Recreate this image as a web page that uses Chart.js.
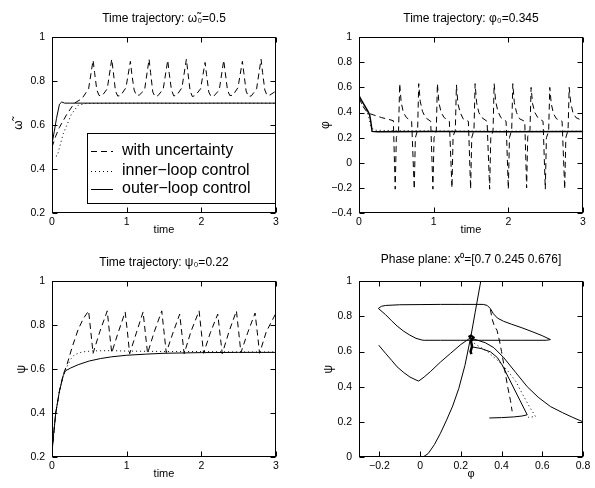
<!DOCTYPE html>
<html>
<head>
<meta charset="utf-8">
<script src="https://cdn.jsdelivr.net/npm/chart.js@4/dist/chart.umd.min.js"></script>
<style>
  body { margin: 0; background: #fff; width: 595px; height: 488px; position: relative; overflow: hidden; }
  .panel { position: absolute; }
</style>
</head>
<body>
<div class="panel" style="left:0;top:0"><canvas id="c1" width="297" height="244"></canvas></div>
<div class="panel" style="left:297px;top:0"><canvas id="c2" width="298" height="244"></canvas></div>
<div class="panel" style="left:0;top:244px"><canvas id="c3" width="297" height="244"></canvas></div>
<div class="panel" style="left:297px;top:244px"><canvas id="c4" width="298" height="244"></canvas></div>
<script>
// tick labels
const timeTicks = [0, 1, 2, 3];
const omegaTicks = [0.2, 0.4, 0.6, 0.8, 1];
const phiTicks = [-0.4, -0.2, 0, 0.2, 0.4, 0.6, 0.8, 1];
const psiTicks = [0.2, 0.4, 0.6, 0.8, 1];
const phasePhiTicks = [-0.2, 0, 0.2, 0.4, 0.6, 0.8];
const phasePsiTicks = [0, 0.2, 0.4, 0.6, 0.8, 1];
const seriesNames = ['with uncertainty', 'inner\u2212loop control', 'outer\u2212loop control'];

// omega~ time trajectory
const omegaUncT = [0,0.05,0.1,0.15,0.2,0.3,0.4,0.49,
  0.55,0.57,0.6,0.63,0.67,0.74,
  0.8,0.82,0.85,0.88,0.92,0.99,
  1.05,1.07,1.1,1.13,1.17,1.24,
  1.3,1.32,1.35,1.38,1.42,1.49,
  1.55,1.57,1.6,1.63,1.67,1.74,
  1.8,1.82,1.85,1.88,1.92,1.99,
  2.05,2.07,2.1,2.13,2.17,2.24,
  2.3,2.32,2.35,2.38,2.42,2.49,
  2.55,2.57,2.6,2.63,2.67,2.74,
  2.8,2.82,2.85,2.88,2.92,3.0];
const omegaUncV = [0.5,0.55,0.59,0.62,0.65,0.7,0.72,0.765,
  0.895,0.84,0.76,0.735,0.733,0.765,
  0.9,0.845,0.755,0.732,0.735,0.77,
  0.89,0.83,0.76,0.735,0.737,0.76,
  0.9,0.84,0.75,0.73,0.734,0.765,
  0.895,0.835,0.76,0.733,0.735,0.77,
  0.9,0.84,0.755,0.73,0.735,0.765,
  0.885,0.83,0.75,0.73,0.733,0.76,
  0.895,0.84,0.76,0.735,0.735,0.77,
  0.89,0.835,0.755,0.73,0.733,0.765,
  0.9,0.84,0.76,0.735,0.737,0.755];
const omegaInnerT = [0,0.07,0.15,0.26,0.35,0.45,0.8,1.3,1.8,2.3,3];
const omegaInnerV = [0.455,0.46,0.56,0.65,0.69,0.698,0.699,0.7,0.698,0.7,0.699];
const omegaOuterT = [0,0.03,0.06,0.1,0.13,0.17,0.25,3];
const omegaOuterV = [0.515,0.57,0.63,0.695,0.705,0.7,0.7,0.7];

// phi time trajectory
const phiUncT = [0,0.05,0.1,0.15,0.2,0.3,0.4,0.46,
  0.485,0.5,0.53,0.545,0.565,0.595,0.635,0.705,
  0.74,0.755,0.785,0.8,0.82,0.85,0.89,0.96,
  0.99,1.005,1.035,1.05,1.07,1.1,1.14,1.21,
  1.245,1.26,1.29,1.305,1.325,1.355,1.395,1.465,
  1.495,1.51,1.54,1.555,1.575,1.605,1.645,1.715,
  1.75,1.765,1.795,1.81,1.83,1.86,1.9,1.97,
  2.0,2.015,2.045,2.06,2.08,2.11,2.15,2.22,
  2.245,2.26,2.29,2.305,2.325,2.355,2.395,2.465,
  2.495,2.51,2.54,2.555,2.575,2.605,2.645,2.72,
  2.755,2.77,2.8,2.815,2.835,2.865,2.905,2.975,3.0];
const phiUncV = [0.52,0.45,0.41,0.39,0.38,0.36,0.345,0.335,
  -0.21,0.2,0.26,0.63,0.48,0.4,0.36,0.33,
  -0.21,0.2,0.26,0.63,0.49,0.41,0.36,0.33,
  -0.21,0.2,0.25,0.63,0.48,0.4,0.36,0.33,
  -0.2,0.21,0.26,0.62,0.47,0.4,0.35,0.33,
  -0.21,0.2,0.26,0.63,0.48,0.4,0.36,0.33,
  -0.21,0.2,0.25,0.63,0.49,0.41,0.36,0.33,
  -0.21,0.2,0.26,0.63,0.48,0.4,0.35,0.33,
  -0.2,0.21,0.26,0.6,0.47,0.4,0.36,0.33,
  -0.21,0.2,0.25,0.6,0.47,0.39,0.35,0.33,
  -0.21,0.2,0.26,0.6,0.48,0.4,0.36,0.34,0.335];
const phiInnerT = [0,0.05,0.1,0.13,0.16,0.2,0.3,0.5,1,1.5,2,2.5,3];
const phiInnerV = [0.5,0.46,0.42,0.36,0.29,0.26,0.258,0.256,0.254,0.252,0.252,0.251,0.251];
const phiOuterT = [0,0.04,0.085,0.115,0.143,0.16,0.175,0.25,1,2,3];
const phiOuterV = [0.535,0.49,0.445,0.415,0.38,0.32,0.25,0.248,0.25,0.248,0.25];

// psi time trajectory
const psiUncT = [0,0.05,0.1,0.15,0.2,0.27,0.35,0.42,
  0.49,0.52,0.55,0.64,
  0.74,0.77,0.8,0.89,
  0.98,1.01,1.04,1.13,
  1.22,1.25,1.28,1.37,
  1.47,1.5,1.53,1.62,
  1.71,1.74,1.77,1.86,
  1.97,2.0,2.03,2.12,
  2.22,2.25,2.28,2.37,
  2.47,2.5,2.53,2.62,
  2.72,2.75,2.78,2.87,3.0];
const psiUncV = [0.22,0.4,0.5,0.575,0.62,0.7,0.78,0.83,
  0.865,0.77,0.672,0.77,
  0.865,0.765,0.675,0.77,
  0.86,0.77,0.67,0.765,
  0.86,0.765,0.672,0.77,
  0.865,0.77,0.675,0.765,
  0.85,0.76,0.67,0.77,
  0.865,0.77,0.672,0.765,
  0.85,0.76,0.67,0.77,
  0.865,0.77,0.675,0.765,
  0.855,0.765,0.672,0.77,0.855];
const psiInnerT = [0,0.05,0.1,0.15,0.2,0.25,0.3,0.4,0.55,0.8,1,1.5,2,2.5,3];
const psiInnerV = [0.22,0.4,0.5,0.57,0.61,0.645,0.665,0.678,0.683,0.684,0.682,0.68,0.68,0.678,0.678];
const psiOuterT = [0,0.02,0.05,0.1,0.15,0.18,0.25,0.35,0.5,0.65,0.8,1,1.25,1.5,2,2.5,3];
const psiOuterV = [0.22,0.3,0.4,0.5,0.57,0.592,0.605,0.62,0.637,0.648,0.656,0.663,0.668,0.672,0.675,0.676,0.676];

// phase plane (phi, psi)
const nullPhi = [0.015,0.04,0.07,0.1,0.13,0.16,0.19,0.22,0.25,0.27,0.298];
const nullPsi = [0,0.02,0.07,0.135,0.21,0.29,0.39,0.52,0.69,0.82,1.0];
const topLoopPhi = [-0.205,-0.19,-0.17,-0.1,0.0,0.1,0.2,0.31,0.33,0.345,0.36,0.38,0.41,0.45,0.5,0.55,0.6,0.64,0.62,0.5,0.4,0.3,0.245];
const topLoopPsi = [0.845,0.857,0.862,0.866,0.867,0.868,0.868,0.868,0.862,0.844,0.815,0.79,0.772,0.755,0.735,0.713,0.69,0.668,0.664,0.664,0.664,0.664,0.664];
const leftArcPhi = [-0.205,-0.17,-0.14,-0.113,-0.08,-0.05,-0.02,0.01,0.02,0.1,0.2,0.245];
const leftArcPsi = [0.845,0.81,0.775,0.745,0.715,0.693,0.675,0.665,0.664,0.664,0.664,0.664];
const valleyPhi = [-0.203,-0.17,-0.14,-0.113,-0.08,-0.05,-0.02,-0.007,0.02,0.05,0.1,0.15,0.2,0.245];
const valleyPsi = [0.636,0.59,0.55,0.513,0.48,0.455,0.438,0.432,0.455,0.485,0.54,0.59,0.64,0.676];
const rightTailPhi = [0.8,0.75,0.7,0.64,0.58,0.526,0.47,0.411,0.362,0.32,0.28,0.25];
const rightTailPsi = [0.2,0.225,0.252,0.287,0.34,0.4,0.48,0.565,0.622,0.65,0.665,0.675];
const lowLoopPhi = [0.34,0.4,0.46,0.5,0.526,0.49,0.45,0.403,0.38,0.346,0.3,0.256,0.25];
const lowLoopPsi = [0.222,0.224,0.228,0.233,0.24,0.323,0.415,0.523,0.565,0.598,0.617,0.626,0.6];
const phaseInnerPhi = [0.25,0.28,0.33,0.38,0.428,0.47,0.501,0.535,0.567,0.53];
const phaseInnerPsi = [0.66,0.636,0.6,0.55,0.494,0.43,0.362,0.29,0.23,0.226];
const phaseUncPhi = [0.345,0.355,0.365,0.378,0.39,0.4,0.415,0.43,0.444,0.452];
const phaseUncPsi = [0.84,0.78,0.745,0.72,0.66,0.6,0.5,0.4,0.32,0.26];
const clusterPhi = [0.238,0.25,0.262,0.25,0.255,0.248,0.252];
const clusterPsi = [0.682,0.69,0.68,0.66,0.63,0.6,0.585];

Chart.defaults.font.family = '"Liberation Sans", Arial, Helvetica, sans-serif';
Chart.defaults.color = '#000';

const DASH = [6, 4];
const DOT = [1, 3];

// frame round the plot with inward ticks on all four sides
const boxFrame = {
  id: 'boxFrame',
  afterDraw(chart) {
    const {ctx, chartArea: a, scales} = chart;
    const L = Math.round(a.left) + 0.5, R = Math.round(a.right) - 0.5;
    const T = Math.round(a.top) + 0.5, B = Math.round(a.bottom) - 0.5;
    ctx.save();
    ctx.strokeStyle = '#000';
    ctx.lineWidth = 1;
    ctx.setLineDash([]);
    ctx.strokeRect(L, T, R - L, B - T);
    ctx.beginPath();
    scales.x.ticks.forEach(t => {
      const p = Math.round(scales.x.getPixelForValue(t.value)) + 0.5;
      ctx.moveTo(p, B); ctx.lineTo(p, B - 5);
      ctx.moveTo(p, T); ctx.lineTo(p, T + 5);
    });
    scales.y.ticks.forEach(t => {
      const p = Math.round(scales.y.getPixelForValue(t.value)) + 0.5;
      ctx.moveTo(L, p); ctx.lineTo(L + 5, p);
      ctx.moveTo(R, p); ctx.lineTo(R - 5, p);
    });
    ctx.stroke();
    ctx.restore();
  }
};

// boxed legend inside the first panel
const keyBox = {
  id: 'keyBox',
  afterDraw(chart, args, opts) {
    if (!opts.show) return;
    const {ctx, chartArea: a} = chart;
    const left = opts.left, top = opts.top, right = Math.round(a.right), bottom = opts.bottom;
    ctx.save();
    ctx.fillStyle = '#fff';
    ctx.fillRect(left, top, right - left, bottom - top);
    ctx.strokeStyle = '#000';
    ctx.lineWidth = 1;
    ctx.strokeRect(left + 0.5, top + 0.5, right - left - 1, bottom - top - 1);
    ctx.font = '16px "Liberation Sans", Arial, sans-serif';
    ctx.textBaseline = 'middle';
    chart.data.datasets.forEach((ds, i) => {
      const y = opts.rows[i];
      ctx.beginPath();
      ctx.setLineDash(ds.borderDash || []);
      ctx.moveTo(left + 4, y + 0.5);
      ctx.lineTo(left + 26, y + 0.5);
      ctx.stroke();
      ctx.fillStyle = '#000';
      ctx.fillText(ds.label, left + 35, y);
    });
    ctx.restore();
  }
};

function fmt(v) {
  return String(+v.toFixed(1)).replace('-', '\u2212');
}

function axis(horiz, min, max, ticks, label, size, titlePad) {
  return {
    type: 'linear',
    position: horiz ? 'bottom' : 'left',
    min: min,
    max: max,
    afterBuildTicks: s => { s.ticks = ticks.map(v => ({value: v})); },
    afterFit: s => { if (horiz) s.height = size; else s.width = size; },
    grid: {display: false, drawTicks: false},
    border: {display: false},
    ticks: {autoSkip: false, maxRotation: 0, padding: horiz ? 3 : 7, color: '#000',
      font: {size: 10.5}, callback: v => fmt(v)},
    title: {display: true, text: label, color: '#000', font: {size: horiz ? 11 : 12},
      padding: horiz ? {top: 0, bottom: 7} : {top: titlePad, bottom: 0}}
  };
}

function series(xs, ys, dash, label, width) {
  return {
    label: label,
    data: xs.map((x, i) => ({x: x, y: ys[i]})),
    borderColor: '#000',
    borderWidth: width || 1,
    borderDash: dash,
    pointRadius: 0,
    tension: 0,
    fill: false
  };
}

function panel(id, o) {
  return new Chart(document.getElementById(id), {
    type: 'line',
    data: {datasets: o.datasets},
    options: {
      responsive: false,
      animation: false,
      events: [],
      layout: {padding: {left: 0, right: o.padRight, top: 0, bottom: 0}},
      plugins: {
        legend: {display: false},
        tooltip: {enabled: false},
        title: {display: true, text: o.title, fullSize: false, color: '#000',
          font: {size: 12, weight: 'normal'}, padding: {top: o.titleTop, bottom: 22.8 - o.titleTop}},
        keyBox: o.key || {show: false}
      },
      scales: {
        x: axis(true, o.xMin, o.xMax, o.xTicks, o.xLabel, 31),
        y: axis(false, o.yMin, o.yMax, o.yTicks, o.yLabel, o.yWidth, o.yTitlePad)
      }
    },
    plugins: [boxFrame, keyBox]
  });
}

panel('c1', {
  title: 'Time trajectory: \u03c9\u0303\u2080=0.5', titleTop: 11,
  xMin: 0, xMax: 3, xTicks: timeTicks, xLabel: 'time',
  yMin: 0.2, yMax: 1, yTicks: omegaTicks, yLabel: '\u03c9\u0303',
  yWidth: 52, yTitlePad: 11, padRight: 21,
  key: {show: true, left: 87, top: 133, bottom: 204, rows: [151, 171, 189]},
  datasets: [
    series(omegaUncT, omegaUncV, DASH, seriesNames[0]),
    series(omegaInnerT, omegaInnerV, DOT, seriesNames[1]),
    series(omegaOuterT, omegaOuterV, [], seriesNames[2])
  ]
});

panel('c2', {
  title: 'Time trajectory: \u03c6\u2080=0.345', titleTop: 11,
  xMin: 0, xMax: 3, xTicks: timeTicks, xLabel: 'time',
  yMin: -0.4, yMax: 1, yTicks: phiTicks, yLabel: '\u03c6',
  yWidth: 62, yTitlePad: 21, padRight: 12,
  datasets: [
    series(phiUncT, phiUncV, DASH, seriesNames[0]),
    series(phiInnerT, phiInnerV, DOT, seriesNames[1]),
    series(phiOuterT, phiOuterV, [], seriesNames[2], 1.5)
  ]
});

panel('c3', {
  title: 'Time trajectory: \u03c8\u2080=0.22', titleTop: 11,
  xMin: 0, xMax: 3, xTicks: timeTicks, xLabel: 'time',
  yMin: 0.2, yMax: 1, yTicks: psiTicks, yLabel: '\u03c8',
  yWidth: 52, yTitlePad: 14, padRight: 21,
  datasets: [
    series(psiUncT, psiUncV, DASH, seriesNames[0]),
    series(psiInnerT, psiInnerV, DOT, seriesNames[1]),
    series(psiOuterT, psiOuterV, [], seriesNames[2])
  ]
});

panel('c4', {
  title: 'Phase plane: x\u2070=[0.7 0.245 0.676]', titleTop: 8,
  xMin: -0.3, xMax: 0.8, xTicks: phasePhiTicks, xLabel: '\u03c6',
  yMin: 0, yMax: 1, yTicks: phasePsiTicks, yLabel: '\u03c8',
  yWidth: 62, yTitlePad: 24, padRight: 12,
  datasets: [
    series(nullPhi, nullPsi, [], 'nullcline'),
    series(topLoopPhi, topLoopPsi, [], seriesNames[2]),
    series(leftArcPhi, leftArcPsi, [], seriesNames[2]),
    series(valleyPhi, valleyPsi, [], seriesNames[2]),
    series(rightTailPhi, rightTailPsi, [], seriesNames[2]),
    series(lowLoopPhi, lowLoopPsi, [], seriesNames[2]),
    series(phaseInnerPhi, phaseInnerPsi, DOT, seriesNames[1]),
    series(phaseUncPhi, phaseUncPsi, DASH, seriesNames[0]),
    series(clusterPhi, clusterPsi, [], 'equilibrium', 2.5)
  ]
});
</script>
</body>
</html>
